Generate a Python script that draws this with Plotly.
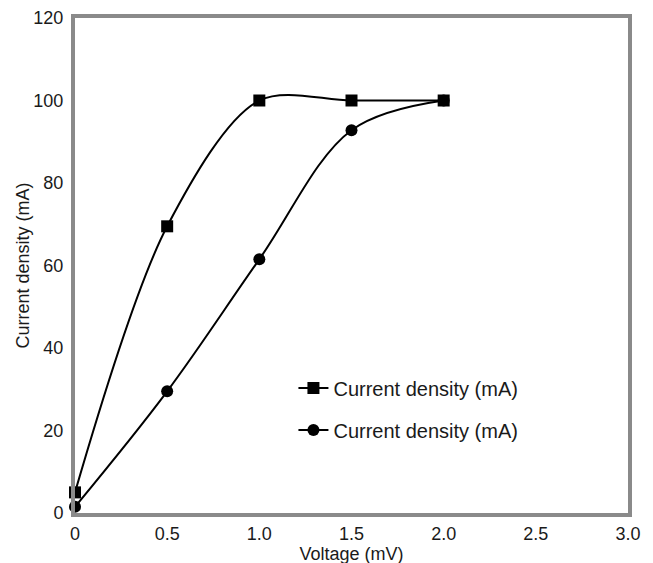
import plotly.graph_objects as go

voltage = [0, 0.5, 1.0, 1.5, 2.0]
series_square = [5, 69.5, 100, 100, 100]
series_circle = [1.5, 29.5, 61.5, 92.8, 100]
series_names = ["Current density (mA)", "Current density (mA)"]
x_tickvals = [0, 0.5, 1.0, 1.5, 2.0, 2.5, 3.0]
x_ticktext = ["0", "0.5", "1.0", "1.5", "2.0", "2.5", "3.0"]
y_tickvals = [0, 20, 40, 60, 80, 100, 120]

fig = go.Figure()
fig.add_trace(go.Scatter(
    x=voltage, y=series_square, name=series_names[0], mode="lines+markers",
    line=dict(color="black", width=2, shape="spline", smoothing=0.9),
    marker=dict(symbol="square", size=12, color="black"),
    legendgroup="a", cliponaxis=False))
fig.add_trace(go.Scatter(
    x=voltage, y=series_circle, name=series_names[1], mode="lines+markers",
    line=dict(color="black", width=2, shape="spline", smoothing=1.0),
    marker=dict(symbol="circle", size=12, color="black"),
    legendgroup="b", cliponaxis=False))

fam = "Liberation Sans, Arial, sans-serif"
fig.update_layout(
    width=653, height=563,
    margin=dict(l=67, r=33, t=10, b=58, autoexpand=False),
    paper_bgcolor="white", plot_bgcolor="white",
    font=dict(family=fam, size=18, color="#1a1a1a"),
    showlegend=True,
    legend=dict(x=0.395, y=0.292, xanchor="left", yanchor="top",
                font=dict(family=fam, size=20, color="#1a1a1a"),
                bgcolor="rgba(0,0,0,0)", tracegroupgap=13, traceorder="grouped"),
    xaxis=dict(range=[0, 3.0], tickvals=x_tickvals, ticktext=x_ticktext,
               showgrid=False, zeroline=False, showline=True, mirror=True,
               linecolor="#8a8a8a", linewidth=4, ticks="", ticklabelstandoff=1,
               automargin=False,
               title=dict(text="Voltage (mV)", standoff=0, font=dict(size=18))),
    yaxis=dict(range=[0, 120], tickvals=y_tickvals,
               showgrid=False, zeroline=False, showline=True, mirror=True,
               linecolor="#8a8a8a", linewidth=4, ticks="", ticklabelstandoff=4,
               automargin=False,
               title=dict(text="Current density (mA)", standoff=0, font=dict(size=18))),
)
fig.write_html("out.html")
